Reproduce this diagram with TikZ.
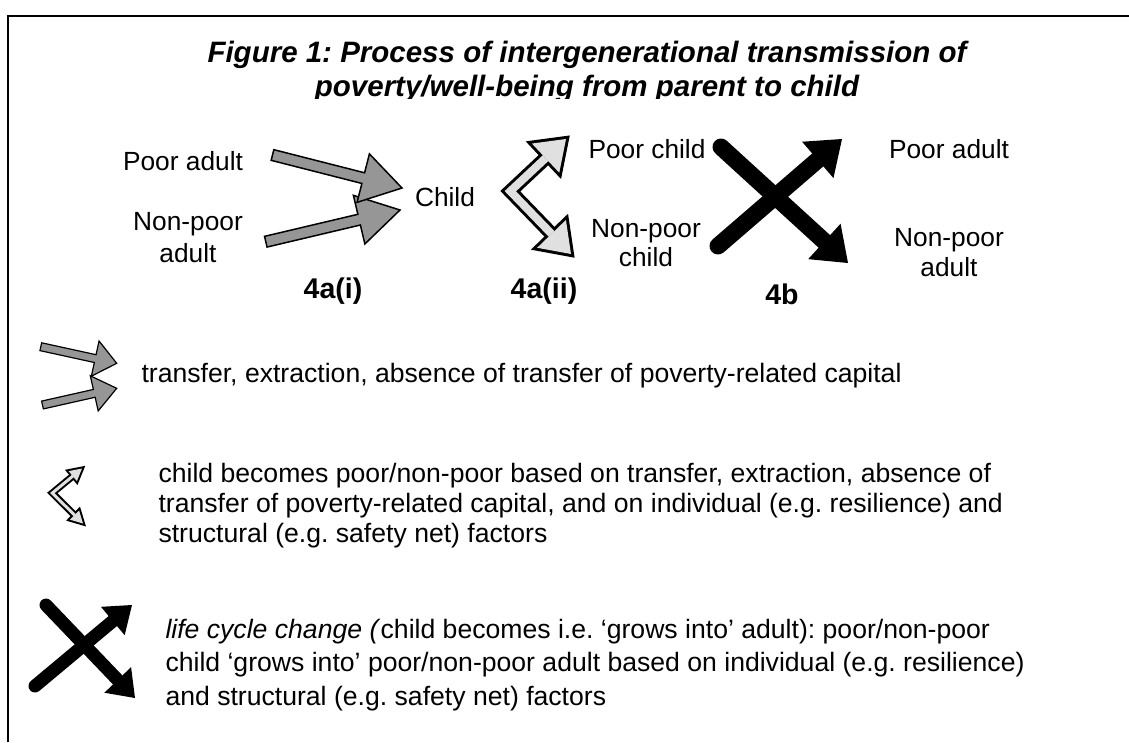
\documentclass[tikz,border=0pt]{standalone}
\usepackage{fontspec}
\setmainfont{Liberation Sans}
\usetikzlibrary{calc,arrows.meta}
\frenchspacing

\definecolor{transfergray}{RGB}{150,150,150}
\definecolor{becomegray}{RGB}{224,224,224}

% block arrow: [style] {tail} {tip} {shaft half width} {head half width} {head length}
\newcommand{\blockarrow}[6][]{%
  \coordinate (ba-base) at ($(#3)!#6!(#2)$);
  \filldraw[#1] ($(#2)!#4!90:(#3)$) -- ($(ba-base)!#4!90:(#3)$)
    -- ($(ba-base)!#5!90:(#3)$) -- (#3) -- ($(ba-base)!#5!-90:(#3)$)
    -- ($(ba-base)!#4!-90:(#3)$) -- ($(#2)!#4!-90:(#3)$) -- cycle;}

% bent double arrow: {vertex} {tip 1} {tip 2} {outer width} {inner width} {head half width} {head length} {head stroke}
\newcommand{\chevron}[8]{%
  \coordinate (ch-b1) at ($(#2)!#7!(#1)$);
  \coordinate (ch-b2) at ($(#3)!#7!(#1)$);
  % outline
  \draw[line width=#4, line join=miter] (ch-b1) -- (#1) -- (ch-b2);
  \filldraw[line width=#8, line join=miter] (#2) -- ($(ch-b1)!#6!90:(#2)$) -- ($(ch-b1)!#6!-90:(#2)$) -- cycle;
  \filldraw[line width=#8, line join=miter] (#3) -- ($(ch-b2)!#6!90:(#3)$) -- ($(ch-b2)!#6!-90:(#3)$) -- cycle;
  % inside
  \draw[line width=#5, becomegray, line join=miter] (ch-b1) -- (#1) -- (ch-b2);
  \fill[becomegray] (#2) -- ($(ch-b1)!#6!90:(#2)$) -- ($(ch-b1)!#6!-90:(#2)$) -- cycle;
  \fill[becomegray] (#3) -- ($(ch-b2)!#6!90:(#3)$) -- ($(ch-b2)!#6!-90:(#3)$) -- cycle;}

\begin{document}
\begin{tikzpicture}[x=1pt, y=-1pt,
    nodetext/.style={
        font=\fontsize{26.3}{31}\selectfont,
        align=center,
        anchor=base
    },
    tagtext/.style={
        font=\bfseries\fontsize{28.5}{32}\selectfont,
        anchor=base
    },
    legendtext/.style={
        font=\fontsize{26.6}{30}\selectfont,
        align=left,
        anchor=base west
    },
    transfer/.style={
        fill=transfergray,
        draw=black,
        line width=1.5pt,
        line join=miter
    },
    growbar/.style={
        line width=17pt,
        line cap=round,
        -{Triangle[length=32pt,width=48pt,line width=0pt]}
    },
    smallgrowbar/.style={
        line width=13pt,
        line cap=round,
        -{Triangle[length=25pt,width=37pt,line width=0pt]}
    }
]
\useasboundingbox (0,0) rectangle (1129,742);

% --- Frame ---
\draw[line width=1.5pt] (8,742) -- (8,16) -- (1129,16);

%%%%%%%%%%%%%%%%%%%%%%%%
% Title
%%%%%%%%%%%%%%%%%%%%%%%%
\begin{scope}
\clip (0,0) rectangle (1129,98);
\node[font=\bfseries\itshape\fontsize{29.5}{34}\selectfont, align=center, anchor=base]
    (title) at (587,96)
    {Figure 1: Process of intergenerational transmission of\\poverty/well-being from parent to child};
\end{scope}

%%%%%%%%%%%%%%%%%%%%%%%%
% 4a(i): parent to child
%%%%%%%%%%%%%%%%%%%%%%%%
\node[nodetext] (pooradult) at (183,170) {Poor adult};
\node[nodetext, font=\fontsize{26.3}{32}\selectfont] (nonpooradult) at (188,262) {Non-poor\\adult};
\node[nodetext] (child) at (445,206) {Child};
\node[tagtext] (tagi) at (333,298) {4a(i)};

\coordinate (ta1) at (265.8,241.7);
\coordinate (th1) at (400,210);
\coordinate (ta2) at (272.5,155);
\coordinate (th2) at (402,188);
\blockarrow[transfer]{ta1}{th1}{5.5pt}{25pt}{42pt}
\blockarrow[transfer]{ta2}{th2}{5.5pt}{25pt}{40pt}

%%%%%%%%%%%%%%%%%%%%%%%%
% 4a(ii): child becomes poor / non-poor
%%%%%%%%%%%%%%%%%%%%%%%%
\node[nodetext] (poorchild) at (647,158) {Poor child};
\node[nodetext, font=\fontsize{26.3}{29}\selectfont] (nonpoorchild) at (646,266) {Non-poor\\child};
\node[tagtext] (tagii) at (544,298) {4a(ii)};

\coordinate (cv) at (510.3,191.2);
\coordinate (ct1) at (566,139);
\coordinate (ct2) at (571,254);
\chevron{cv}{ct1}{ct2}{14pt}{8pt}{20pt}{28pt}{6pt}

%%%%%%%%%%%%%%%%%%%%%%%%
% 4b: child grows into adult
%%%%%%%%%%%%%%%%%%%%%%%%
\node[nodetext] (pooradultb) at (949,158) {Poor adult};
\node[nodetext, font=\fontsize{26.3}{30}\selectfont] (nonpooradultb) at (949,276) {Non-poor\\adult};
\node[tagtext] (tagb) at (782,304) {4b};

\coordinate (ga1) at (721,147);
\coordinate (gh1) at (848,263);
\coordinate (ga2) at (718,246);
\coordinate (gh2) at (842,139);
\draw[growbar] (ga1) -- (gh1);
\draw[growbar] (ga2) -- (gh2);

%%%%%%%%%%%%%%%%%%%%%%%%
% Legend
%%%%%%%%%%%%%%%%%%%%%%%%

% --- transfer ---
\coordinate (la1) at (42.5,405);
\coordinate (lh1) at (116.7,388.3);
\coordinate (la2) at (40.8,346.7);
\coordinate (lh2) at (116.7,363.3);
\blockarrow[transfer, line width=1.2pt]{la1}{lh1}{4pt}{18pt}{23pt}
\blockarrow[transfer, line width=1.2pt]{la2}{lh2}{4pt}{18pt}{22pt}
\node[legendtext] (legtransfer) at (138,382)
    {transfer, extraction, absence of transfer of poverty-related capital};

% --- becomes ---
\coordinate (lcv) at (52.3,493);
\coordinate (lct1) at (82,468.5);
\coordinate (lct2) at (83,523.5);
\chevron{lcv}{lct1}{lct2}{7pt}{3pt}{6.5pt}{12pt}{4pt}
\node[legendtext] (legbecome) at (155,542)
    {child becomes poor/non-poor based on transfer, extraction, absence of\\
     transfer of poverty-related capital, and on individual (e.g. resilience) and\\
     structural (e.g. safety net) factors};

% --- grows into ---
\coordinate (lga1) at (46,605);
\coordinate (lgh1) at (135,698);
\coordinate (lga2) at (35,686);
\coordinate (lgh2) at (132,605);
\draw[smallgrowbar] (lga1) -- (lgh1);
\draw[smallgrowbar] (lga2) -- (lgh2);
\node[legendtext, font=\fontsize{26.6}{33.5}\selectfont] (leggrow) at (162,705)
    {\textit{life cycle change (}child becomes i.e. ‘grows into’ adult): poor/non-poor\\
     child ‘grows into’ poor/non-poor adult based on individual (e.g. resilience)\\
     and structural (e.g. safety net) factors};

\end{tikzpicture}
\end{document}
